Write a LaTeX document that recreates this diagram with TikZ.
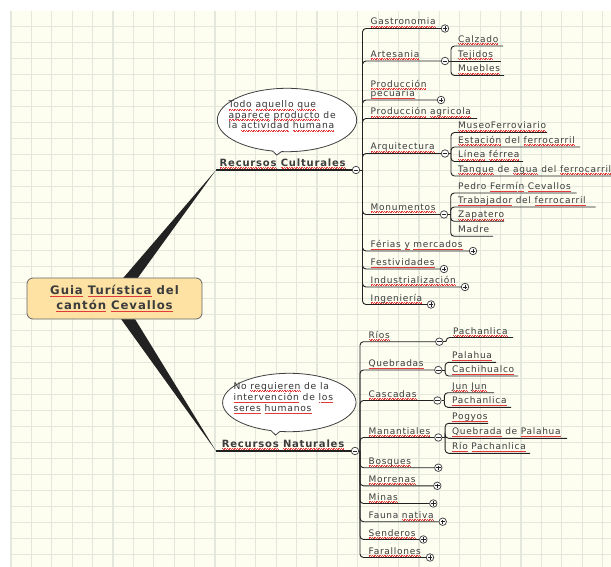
\documentclass[tikz,border=0pt]{standalone}
\usepackage{fontspec}
\setmainfont{DejaVu Sans}[LetterSpace=8]
\usetikzlibrary{calc}
\definecolor{cream}{HTML}{FDFDF0}
\definecolor{gridc}{HTML}{E4E8DC}
\definecolor{rootfill}{HTML}{FDE2A4}
\definecolor{txt}{HTML}{3C3C3C}
\definecolor{sqred}{HTML}{E23A3A}
\definecolor{lnc}{HTML}{222222}
\newsavebox\sqbox
\newcommand\sq[1]{\sbox\sqbox{#1}\rlap{\textcolor{sqred}{\hbox to\wd\sqbox{\xleaders\hbox{\rule[-1.5pt]{0.7pt}{0.5pt}\rule[-2.1pt]{0.7pt}{0.5pt}\kern0.25pt}\hfil}}}\usebox\sqbox}
\begin{document}
\begin{tikzpicture}[x=1pt,y=-1pt,
  lbl/.style={anchor=base west,inner sep=0pt,text=txt,font=\fontsize{9}{9.5}\selectfont},
  topic/.style={anchor=base west,inner sep=0pt,text=txt,font=\fontsize{10}{11}\selectfont\bfseries},
  conn/.style={draw=lnc,line width=0.9pt,rounded corners=3.5pt},
  tog/.style={circle,draw=lnc!85,fill=white,minimum size=7.5pt,inner sep=0pt,line width=0.75pt},
  plus/.style={tog,path picture={\draw[lnc,line width=0.65pt]
     ($(path picture bounding box.center)+(-2.2,0)$) -- ($(path picture bounding box.center)+(2.2,0)$)
     ($(path picture bounding box.center)+(0,-2.2)$) -- ($(path picture bounding box.center)+(0,2.2)$);}},
  minus/.style={tog,path picture={\draw[lnc,line width=0.65pt]
     ($(path picture bounding box.center)+(-2.2,0)$) -- ($(path picture bounding box.center)+(2.2,0)$);}},
  bubble/.style={draw=black!75,fill=white,line width=0.8pt},
  note/.style={anchor=base west,inner sep=0pt,align=left,text=txt!85!black}
]
\useasboundingbox (0,0) rectangle (611,567);
\fill[white] (0,0) rectangle (611,567);
\fill[cream] (11,11) rectangle (611,567);
\foreach \i in {0,...,29} \draw[gridc,line width=1.2pt] ({11+20.4*\i},11) -- ({11+20.4*\i},567);
\foreach \j in {1,...,35} \draw[gridc,line width=0.8pt] (11,{10.7+16*\j}) -- (611,{10.7+16*\j});
\begin{scope}
\clip (0,0) rectangle (611,567);

% root and wedges
\coordinate (ctA) at (216,170);
\coordinate (ctB) at (216,451);
\coordinate (rc0) at (114.5,298.5);
\fill[lnc] ($(rc0)+(-5.3,-4.2)$) -- ($(rc0)+(5.3,4.2)$) -- (ctA) -- cycle;
\fill[lnc] ($(rc0)+(-5.6,3.7)$) -- ($(rc0)+(5.6,-3.7)$) -- (ctB) -- cycle;
\node[draw=black!60,fill=rootfill,rounded corners=6pt,line width=0.8pt,minimum width=175pt,minimum height=41pt,
      inner sep=0pt,align=center,text=txt,font=\fontsize{11.7}{15}\selectfont\bfseries] (root) at (rc0)
      {\sq{Guia} \sq{Turística} del\\\sq{cantón} \sq{Cevallos}};

% callouts
\coordinate (e1) at (287,120);
\draw[bubble] (e1) ++(102:69.7 and 31.7) arc[start angle=102,end angle=454.5,x radius=69.7,y radius=31.7] -- (276.8,155) -- cycle;
\node[note,font=\fontsize{9.2}{10.5}\selectfont] (n1) at (228.3,129)
  {\sq{Todo} \sq{aquello} \sq{que}\\\sq{aparece} \sq{producto} de\\la \sq{actividad} \sq{humana}};
\coordinate (e2) at (289.3,402.5);
\draw[bubble] (e2) ++(106:66.7 and 29.2) arc[start angle=106,end angle=458,x radius=66.7,y radius=29.2] -- (275.5,435) -- cycle;
\node[note,font=\fontsize{9.2}{11.2}\selectfont] (n2) at (233.3,411.7)
  {No \sq{requieren} de la\\\sq{intervención} de \sq{los}\\\sq{seres} \sq{humanos}};

% ---------- Recursos Culturales ----------
\node[topic] (rc) at (219.5,166.5) {\sq{Recursos} \sq{Culturales}};
\node[minus] (rct) at (356,170) {};
\draw[lnc,line width=1.1pt] (ctA) -- (rct.west);
\coordinate (tc) at (362.5,170);
\draw[conn] (rct.east) -- (tc);

\node[lbl] (g1) at (370.5,25) {\sq{Gastronomia}};
\node[plus] (g1t) at (445,28.5) {};
\draw[conn] (tc) |- (g1t.west);

\node[lbl] (g2) at (370.5,57.5) {\sq{Artesania}};
\node[minus] (g2t) at (445,61) {};
\draw[conn] (tc) |- (g2t.west);
\coordinate (g2b) at (451,61);
\draw[conn] (g2t.east) -- (g2b);
\node[lbl] (g21) at (458,42.5) {\sq{Calzado}};
\coordinate (g21e) at (503,46);
\draw[conn] (g2b) |- (g21e);
\node[lbl] (g22) at (458,57.5) {\sq{Tejidos}};
\coordinate (g22e) at (501,61);
\draw[conn] (g2b) -- (g22e);
\node[lbl] (g23) at (458,72) {\sq{Muebles}};
\coordinate (g23e) at (504,75.5);
\draw[conn] (g2b) |- (g23e);

\node[lbl,align=left] (g3) at (370.5,96.7) {\sq{Producción}\\\sq{pecuaria}};
\node[plus] (g3t) at (441,100) {};
\draw[conn] (tc) |- (g3t.west);

\node[lbl] (g4) at (370.5,115) {\sq{Producción} \sq{agricola}};
\coordinate (g4e) at (477,118.5);
\draw[conn] (tc) |- (g4e);

\node[lbl] (g5) at (370.5,150) {\sq{Arquitectura}};
\node[minus] (g5t) at (445,153.5) {};
\draw[conn] (tc) |- (g5t.west);
\coordinate (g5b) at (451,153.5);
\draw[conn] (g5t.east) -- (g5b);
\node[lbl] (g51) at (458,129) {\sq{MuseoFerroviario}};
\coordinate (g51e) at (547,132.5);
\draw[conn] (g5b) |- (g51e);
\node[lbl] (g52) at (458,143.5) {\sq{Estación} del \sq{ferrocarril}};
\coordinate (g52e) at (580,147);
\draw[conn] (g5b) |- (g52e);
\node[lbl] (g53) at (458,158) {\sq{Línea} \sq{férrea}};
\coordinate (g53e) at (523,161.5);
\draw[conn] (g5b) |- (g53e);
\node[lbl] (g54) at (458,172.5) {\sq{Tanque} de \sq{agua} del \sq{ferrocarril}};
\coordinate (g54e) at (640,176);
\draw[conn] (g5b) |- (g54e);

\node[lbl] (g6) at (370.5,210.5) {\sq{Monumentos}};
\node[minus] (g6t) at (444,214.5) {};
\draw[conn] (tc) |- (g6t.west);
\coordinate (g6b) at (450.7,214.5);
\draw[conn] (g6t.east) -- (g6b);
\node[lbl] (g61) at (458,189.7) {Pedro \sq{Fermín} \sq{Cevallos}};
\coordinate (g61e) at (576.5,193);
\draw[conn] (g6b) |- (g61e);
\node[lbl] (g62) at (458,203.7) {\sq{Trabajador} del \sq{ferrocarril}};
\coordinate (g62e) at (595.5,207);
\draw[conn] (g6b) |- (g62e);
\node[lbl] (g63) at (458,218) {\sq{Zapatero}};
\coordinate (g63e) at (504,221.3);
\draw[conn] (g6b) |- (g63e);
\node[lbl] (g64) at (458,233) {Madre};
\coordinate (g64e) at (493,236.3);
\draw[conn] (g6b) |- (g64e);

\node[lbl] (g7) at (370.5,247.5) {\sq{Férias} \sq{y} \sq{mercados}};
\node[plus] (g7t) at (473,251) {};
\draw[conn] (tc) |- (g7t.west);

\node[lbl] (g8) at (370.5,265.5) {\sq{Festividades}};
\node[plus] (g8t) at (444,269) {};
\draw[conn] (tc) |- (g8t.west);

\node[lbl] (g9) at (370.5,283.5) {\sq{Industrialización}};
\node[plus] (g9t) at (465,287) {};
\draw[conn] (tc) |- (g9t.west);

\node[lbl] (g10) at (370.5,301) {\sq{Ingeniería}};
\node[plus] (g10t) at (431,304.5) {};
\draw[conn] (tc) |- (g10t.west);

% ---------- Recursos Naturales ----------
\node[topic] (rn) at (221.7,447.3) {\sq{Recursos} \sq{Naturales}};
\node[minus] (rnt) at (355,451) {};
\draw[lnc,line width=1.1pt] (ctB) -- (rnt.west);
\coordinate (tn) at (360,451);
\draw[conn] (rnt.east) -- (tn);

\node[lbl] (q1) at (368.5,338.2) {\sq{Ríos}};
\node[minus] (q1t) at (439.3,341.7) {};
\draw[conn] (tn) |- (q1t.west);
\coordinate (q1b) at ($(q1t.east)+(2.7,0)$);
\draw[conn] (q1t.east) -- (q1b);
\node[lbl] (q11) at (453,334) {\sq{Pachanlica}};
\coordinate (q11e) at (513,337.5);
\draw[conn] (q1b) |- (q11e);

\node[lbl] (q2) at (368.5,366.5) {\sq{Quebradas}};
\node[minus] (q2t) at (438.3,370) {};
\draw[conn] (tn) |- (q2t.west);
\coordinate (q2b) at ($(q2t.east)+(2.7,0)$);
\draw[conn] (q2t.east) -- (q2b);
\node[lbl] (q21) at (452,358.8) {\sq{Palahua}};
\coordinate (q21e) at (496,362.3);
\draw[conn] (q2b) |- (q21e);
\node[lbl] (q22) at (452,372.5) {\sq{Cachihualco}};
\coordinate (q22e) at (518,376);
\draw[conn] (q2b) |- (q22e);

\node[lbl] (q3) at (368.5,397) {\sq{Cascadas}};
\node[minus] (q3t) at (437.5,400.5) {};
\draw[conn] (tn) |- (q3t.west);
\coordinate (q3b) at ($(q3t.east)+(2.7,0)$);
\draw[conn] (q3t.east) -- (q3b);
\node[lbl] (q31) at (452,389.2) {\sq{Jun} \sq{Jun}};
\coordinate (q31e) at (494,392.7);
\draw[conn] (q3b) |- (q31e);
\node[lbl] (q32) at (452,403.8) {\sq{Pachanlica}};
\coordinate (q32e) at (511,407.3);
\draw[conn] (q3b) |- (q32e);

\node[lbl] (q4) at (368.5,434) {\sq{Manantiales}};
\node[minus] (q4t) at (438.3,437.5) {};
\draw[conn] (tn) |- (q4t.west);
\coordinate (q4b) at ($(q4t.east)+(2.7,0)$);
\draw[conn] (q4t.east) -- (q4b);
\node[lbl] (q41) at (452,419.8) {\sq{Pogyos}};
\coordinate (q41e) at (488,423.3);
\draw[conn] (q4b) |- (q41e);
\node[lbl] (q42) at (452,434.8) {\sq{Quebrada} de \sq{Palahua}};
\coordinate (q42e) at (567,438.3);
\draw[conn] (q4b) |- (q42e);
\node[lbl] (q43) at (452,449.8) {\sq{Río} \sq{Pachanlica}};
\coordinate (q43e) at (530,453.3);
\draw[conn] (q4b) |- (q43e);

\node[lbl] (q5) at (368.5,464.2) {\sq{Bosques}};
\node[plus] (q5t) at (438.3,467.7) {};
\draw[conn] (tn) |- (q5t.west);

\node[lbl] (q6) at (368.5,482.3) {\sq{Morrenas}};
\node[plus] (q6t) at (437.3,485.8) {};
\draw[conn] (tn) |- (q6t.west);

\node[lbl] (q7) at (368.5,500) {\sq{Minas}};
\node[plus] (q7t) at (433.3,503.5) {};
\draw[conn] (tn) |- (q7t.west);

\node[lbl] (q8) at (368.5,518.2) {Fauna \sq{nativa}};
\node[plus] (q8t) at (442.7,521.7) {};
\draw[conn] (tn) |- (q8t.west);

\node[lbl] (q9) at (368.5,536) {\sq{Senderos}};
\node[plus] (q9t) at (423.3,539.5) {};
\draw[conn] (tn) |- (q9t.west);

\node[lbl] (q10) at (368.5,554) {\sq{Farallones}};
\node[plus] (q10t) at (430,557.5) {};
\draw[conn] (tn) |- (q10t.west);
\end{scope}
\end{tikzpicture}
\end{document}
